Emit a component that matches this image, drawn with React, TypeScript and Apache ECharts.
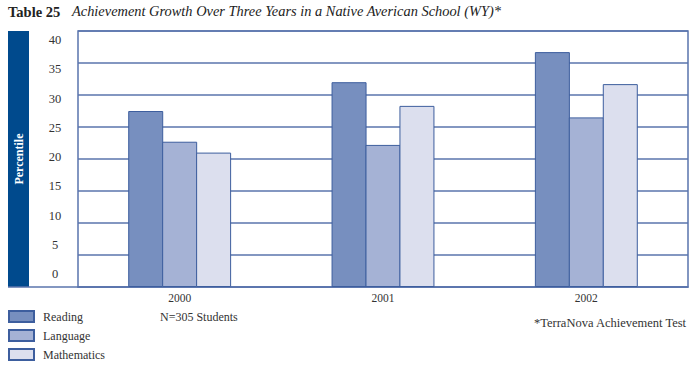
import React, { useEffect, useRef } from "react";
import * as echarts from "echarts";

const years = ["2000", "2001", "2002"];
const reading = [27.5, 32.0, 36.7];
const language = [22.7, 22.2, 26.5];
const mathematics = [21.0, 28.3, 31.7];
const seriesNames = ["Reading", "Language", "Mathematics"];
const yTicks = { min: 0, max: 40, interval: 5 };

const SERIF = "'Liberation Serif', 'DejaVu Serif', serif";
const GRID_LINE = "#5a74ad";
const BORDER = "#3d5e9e";
const COLORS = ["#778fbf", "#a5b2d5", "#dcdfee"];

export default function App() {
  const ref = useRef<HTMLDivElement>(null);
  useEffect(() => {
    if (!ref.current) return;
    const chart = echarts.init(ref.current, null, { renderer: "svg" });
    const data = [reading, language, mathematics];
    chart.setOption({
      animation: false,
      backgroundColor: "#ffffff",
      textStyle: { fontFamily: SERIF },
      grid: [
        {
          left: 78, right: 12, top: 31, height: 256,
          show: true, borderColor: GRID_LINE, borderWidth: 1.5,
        },
        { left: 78, width: 1, top: 40, height: 234 },
      ],
      xAxis: [
        {
          type: "category", data: years, gridIndex: 0,
          axisLine: { show: true, lineStyle: { color: GRID_LINE, width: 1.5 } },
          axisTick: { show: false },
          axisLabel: { color: "#333", fontSize: 11.5, fontFamily: SERIF, margin: 5 },
        },
        { type: "category", data: years, gridIndex: 1, show: false },
      ],
      yAxis: [
        {
          type: "value", gridIndex: 0, ...yTicks,
          axisLine: { show: false }, axisTick: { show: false },
          axisLabel: { show: false },
          splitLine: { show: true, lineStyle: { color: GRID_LINE, width: 1.5 } },
        },
        {
          type: "value", gridIndex: 1, ...yTicks,
          axisLine: { show: false }, axisTick: { show: false },
          splitLine: { show: false },
          axisLabel: { color: "#333", fontSize: 12.5, fontFamily: SERIF, align: "center", margin: 23 },
        },
      ],
      legend: {
        orient: "vertical", left: 8, top: 310, height: 65, padding: 0,
        itemWidth: 25, itemHeight: 11, itemGap: 6,
        icon: "rect",
        data: seriesNames,
        textStyle: { color: "#333", fontSize: 12, fontFamily: SERIF, padding: [0, 0, 0, 4] },
      },
      series: seriesNames.map((name, i) => ({
        name, type: "bar", xAxisIndex: 0, yAxisIndex: 0,
        data: data[i], barWidth: 35, barGap: "-3%",
        itemStyle: { color: COLORS[i], borderColor: BORDER, borderWidth: 1 },
      })),
      graphic: [
        {
          type: "text", left: 8, top: 4,
          style: { text: "Table 25", font: `bold 14.5px ${SERIF}`, fill: "#222" },
        },
        {
          type: "text", left: 72, top: 4,
          style: {
            text: "Achievement Growth Over Three Years in a Native Averican School (WY)*",
            font: `italic 14.4px ${SERIF}`, fill: "#222",
          },
        },
        {
          type: "rect", shape: { x: 8, y: 31, width: 21, height: 256 },
          style: { fill: "#004a8d" },
        },
        {
          type: "text", x: 19, y: 159, rotation: Math.PI / 2,
          style: {
            text: "Percentile", font: `bold 12px ${SERIF}`, fill: "#ffffff",
            textAlign: "center", textVerticalAlign: "middle",
          },
        },
        {
          type: "line", shape: { x1: 8, y1: 287, x2: 78, y2: 287 },
          style: { stroke: GRID_LINE, lineWidth: 1.5 },
        },
        {
          type: "text", left: 160, top: 311,
          style: { text: "N=305 Students", font: `12px ${SERIF}`, fill: "#333" },
        },
        {
          type: "text", right: 13, top: 316,
          style: { text: "*TerraNova Achievement Test", font: `12.5px ${SERIF}`, fill: "#333" },
        },
      ],
    });
    return () => chart.dispose();
  }, []);
  return (
    <div
      ref={ref}
      style={{ position: "fixed", left: 0, top: 0, width: 700, height: 375 }}
    />
  );
}
